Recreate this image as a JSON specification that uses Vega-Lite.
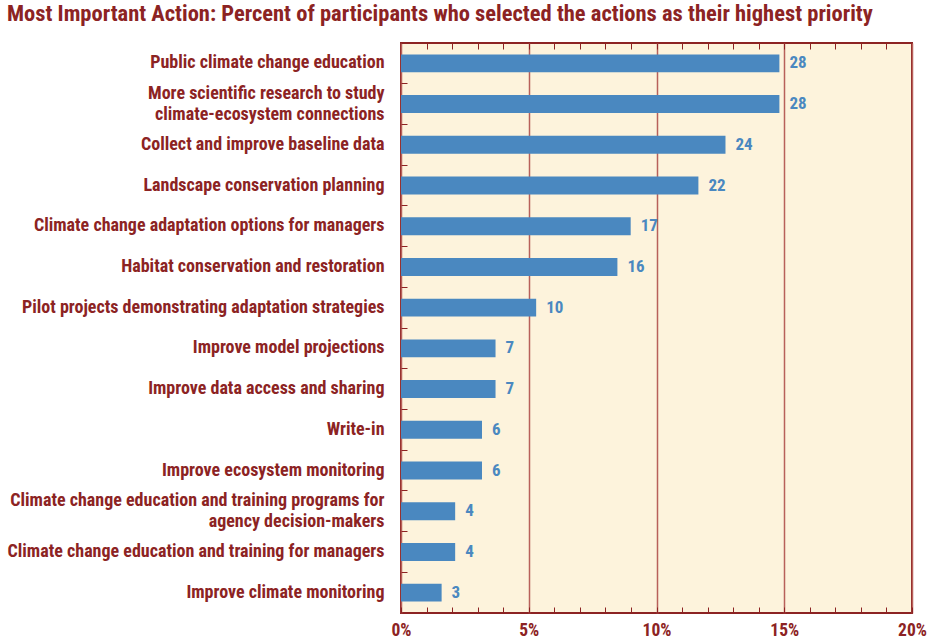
{
  "$schema": "https://vega.github.io/schema/vega-lite/v6.json",
  "autosize": "none",
  "width": 511,
  "height": 570,
  "padding": {"left": 401, "top": 43, "right": 17, "bottom": 28},
  "background": "white",
  "title": {
    "text": "Most Important Action:  Percent of participants who selected the actions as their highest priority",
    "anchor": "start",
    "frame": "group",
    "dx": -394,
    "offset": 17,
    "font": "Roboto Condensed, DejaVu Sans Condensed, sans-serif",
    "fontSize": 22.5,
    "fontWeight": "bold",
    "color": "#8c2323"
  },
  "config": {
    "view": {"fill": "#fdf3dc", "stroke": "#8c2323", "strokeWidth": 2},
    "axis": {
      "labelFont": "Roboto Condensed, DejaVu Sans Condensed, sans-serif",
      "labelFontWeight": "bold",
      "labelColor": "#8c2323",
      "tickColor": "#8c2323",
      "domain": false,
      "title": null
    }
  },
  "data": {
    "values": [
      {"order": 1, "action": "Public climate change education", "n": 28, "pct": 14.81},
      {"order": 2, "action": "More scientific research to study|climate-ecosystem connections", "n": 28, "pct": 14.81},
      {"order": 3, "action": "Collect and improve baseline data", "n": 24, "pct": 12.70},
      {"order": 4, "action": "Landscape conservation planning", "n": 22, "pct": 11.64},
      {"order": 5, "action": "Climate change adaptation options for managers", "n": 17, "pct": 8.99},
      {"order": 6, "action": "Habitat conservation and restoration", "n": 16, "pct": 8.47},
      {"order": 7, "action": "Pilot projects demonstrating adaptation strategies", "n": 10, "pct": 5.29},
      {"order": 8, "action": "Improve model projections", "n": 7, "pct": 3.70},
      {"order": 9, "action": "Improve data access and sharing", "n": 7, "pct": 3.70},
      {"order": 10, "action": "Write-in", "n": 6, "pct": 3.17},
      {"order": 11, "action": "Improve ecosystem monitoring", "n": 6, "pct": 3.17},
      {"order": 12, "action": "Climate change education and training programs for|agency decision-makers", "n": 4, "pct": 2.12},
      {"order": 13, "action": "Climate change education and training for managers ", "n": 4, "pct": 2.12},
      {"order": 14, "action": "Improve climate monitoring", "n": 3, "pct": 1.59}
    ]
  },
  "encoding": {
    "y": {
      "field": "action",
      "type": "nominal",
      "sort": {"field": "order"},
      "scale": {"paddingInner": 0.56, "paddingOuter": 0.28},
      "axis": {
        "labelExpr": "split(datum.label, '|')",
        "labelFontSize": 18,
        "labelLineHeight": 21,
        "labelLimit": 600,
        "labelOffset": {"condition": {"test": "indexof(datum.value, '|') >= 0", "value": -10}, "value": 0},
        "tickSize": -6,
        "bandPosition": -0.636,
        "labelPadding": 23
      }
    }
  },
  "layer": [
    {
      "mark": {"type": "bar", "color": "#4a88c0"},
      "encoding": {
        "x": {
          "field": "pct",
          "type": "quantitative",
          "scale": {"domain": [0, 20], "nice": false},
          "axis": {
            "orient": "bottom",
            "values": [0,1,2,3,4,5,6,7,8,9,10,11,12,13,14,15,16,17,18,19,20],
            "labelExpr": "datum.value % 5 === 0 ? datum.value + '%' : ''",
            "labelFontSize": 17.5,
            "labelPadding": 14,
            "labelFlush": false,
            "tickSize": -6,
            "grid": true,
            "gridColor": "#b8605a",
            "gridWidth": 1.5,
            "gridOpacity": {"condition": {"test": "datum.value % 5 === 0", "value": 1}, "value": 0}
          }
        }
      }
    },
    {
      "mark": {"type": "text", "align": "left", "baseline": "middle", "dx": 10, "fontSize": 17, "fontWeight": "bold", "font": "Roboto Condensed, DejaVu Sans Condensed, sans-serif", "color": "#4a88c0"},
      "encoding": {
        "x": {
          "field": "pct",
          "type": "quantitative",
          "axis": {
            "orient": "top",
            "values": [1,2,3,4,5,6,7,8,9,10,11,12,13,14,15,16,17,18,19],
            "labels": false,
            "tickSize": -6,
            "grid": false
          }
        },
        "text": {"field": "n", "type": "quantitative"}
      }
    }
  ],
  "resolve": {"axis": {"x": "independent"}}
}
